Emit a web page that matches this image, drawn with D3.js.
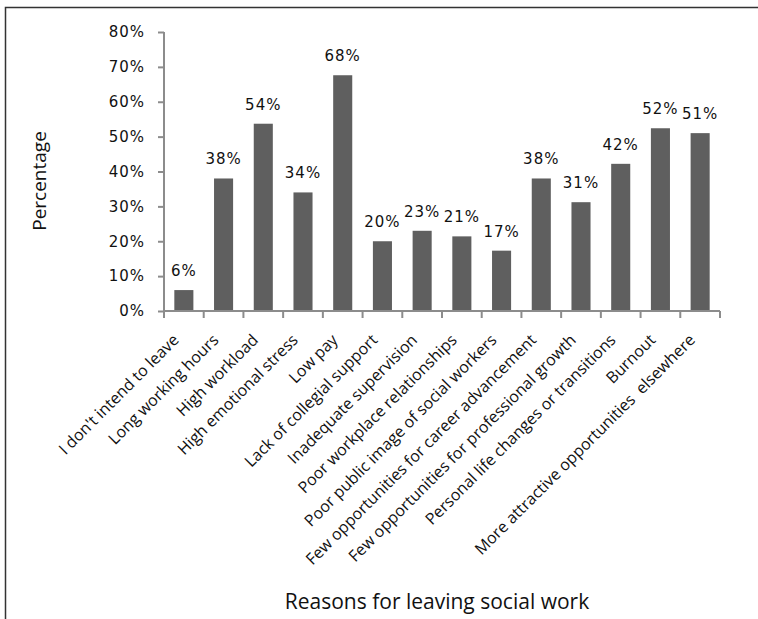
<!DOCTYPE html>
<html>
<head>
<meta charset="utf-8">
<script src="https://cdn.jsdelivr.net/npm/d3@7"></script>
<style>
  body { margin: 0; background: #fff; }
  svg { display: block; }
</style>
</head>
<body>
<div id="chart"></div>
<script>
const categories = [
    "I don't intend to leave",
    "Long working hours",
    "High workload",
    "High emotional stress",
    "Low pay",
    "Lack of collegial support",
    "Inadequate supervision",
    "Poor workplace relationships",
    "Poor public image of social workers",
    "Few opportunities for career advancement",
    "Few opportunities for professional growth",
    "Personal life changes or transitions",
    "Burnout",
    "More attractive opportunities  elsewhere"
];
const values = [6, 38, 53.7, 34, 67.6, 20, 23, 21.4, 17.3, 38, 31.2, 42.2, 52.4, 51];
const yTicks = [0, 10, 20, 30, 40, 50, 60, 70, 80];

const W = 758, H = 619;
const margin = { top: 32, right: 38, bottom: 308, left: 164 };
const width = W - margin.left - margin.right;
const height = H - margin.top - margin.bottom;

const svg = d3.select("#chart").append("svg")
    .attr("width", W)
    .attr("height", H);

// outer frame
svg.append("rect")
    .attr("x", 5.5).attr("y", 7.5)
    .attr("width", W + 10).attr("height", H + 10)
    .attr("fill", "none")
    .attr("stroke", "#333")
    .attr("stroke-width", 1.5);

const g = svg.append("g")
    .attr("transform", `translate(${margin.left},${margin.top})`);

const x = d3.scaleBand().domain(categories).range([0, width]).paddingInner(0.52).paddingOuter(0.26);
const y = d3.scaleLinear().domain([0, 80]).range([height, 0]);

const axisColor = "#8c8c8c";
const numFont = "DejaVu Sans, Verdana, sans-serif";

// bars
g.selectAll(".bar")
    .data(values)
    .join("rect")
    .attr("class", "bar")
    .attr("x", (d, i) => x(categories[i]))
    .attr("width", x.bandwidth())
    .attr("y", d => y(d))
    .attr("height", d => height - y(d))
    .attr("fill", "#5f5f5f");

// value labels
g.selectAll(".valLabel")
    .data(values)
    .join("text")
    .attr("class", "valLabel")
    .attr("x", (d, i) => x(categories[i]) + x.bandwidth() / 2)
    .attr("y", d => y(d) - 14)
    .attr("text-anchor", "middle")
    .style("font-family", numFont)
    .style("font-size", "15px")
    .style("letter-spacing", "1px")
    .style("fill", "#111")
    .text(d => Math.round(d) + "%");

// y axis
const yAxis = g.append("g")
    .call(d3.axisLeft(y).tickValues(yTicks).tickSize(6).tickPadding(13).tickFormat(d => d + "%"));
yAxis.select(".domain").attr("stroke", axisColor).attr("stroke-width", 2).attr("d", `M0,${height}V0`);
yAxis.selectAll(".tick line").attr("stroke", axisColor).attr("stroke-width", 2);
yAxis.selectAll(".tick text")
    .style("font-family", numFont)
    .style("font-size", "15px")
    .style("letter-spacing", "1px")
    .style("fill", "#111");

// x axis with ticks at category boundaries
const xAxisG = g.append("g").attr("transform", `translate(0,${height})`);
xAxisG.append("line")
    .attr("x1", 0).attr("x2", width)
    .attr("stroke", axisColor).attr("stroke-width", 2);
const boundaries = d3.range(categories.length + 1).map(i => i * width / categories.length);
xAxisG.selectAll(".xtick")
    .data(boundaries)
    .join("line")
    .attr("class", "xtick")
    .attr("x1", d => d).attr("x2", d => d)
    .attr("y1", 0).attr("y2", 7)
    .attr("stroke", axisColor).attr("stroke-width", 2);

// category labels
xAxisG.selectAll(".catLabel")
    .data(categories)
    .join("text")
    .attr("class", "catLabel")
    .attr("transform", d => `translate(${x(d) + x.bandwidth() / 2 - 4},${30}) rotate(-45)`)
    .attr("text-anchor", "end")
    .style("font-family", "Open Sans, sans-serif")
    .style("font-size", "16px")
    .style("white-space", "pre")
    .style("fill", "#111")
    .text(d => d);

// axis titles
svg.append("text")
    .attr("transform", `translate(46,181) rotate(-90)`)
    .attr("text-anchor", "middle")
    .style("font-family", "Open Sans, sans-serif")
    .style("font-size", "19px")
    .style("fill", "#111")
    .text("Percentage");

svg.append("text")
    .attr("x", 437)
    .attr("y", 609)
    .attr("text-anchor", "middle")
    .style("font-family", "Open Sans, sans-serif")
    .style("font-size", "21px")
    .style("fill", "#111")
    .text("Reasons for leaving social work");
</script>
</body>
</html>
